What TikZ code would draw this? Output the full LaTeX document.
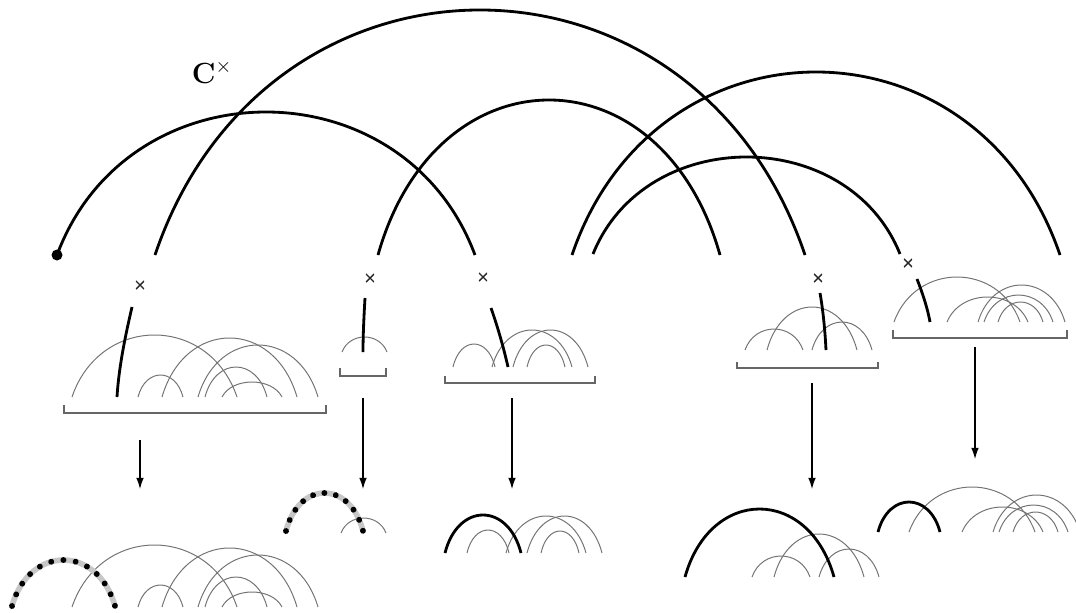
\documentclass[tikz,border=0pt]{standalone}
\usetikzlibrary{arrows.meta,decorations.markings}
\newcommand{\humpk}{0.17}
\newcommand{\hump}[5]{%
  \pgfmathsetmacro{\humpw}{#3-#2}%
  \pgfmathsetmacro{\humpc}{#4-(#4-#5)/0.75}%
  \draw[#1] (#2,#4) .. controls ({#2+\humpk*\humpw},\humpc) and ({#3-\humpk*\humpw},\humpc) .. (#3,#4);%
}
\newcommand{\grpone}{%
  \hump{thinarc}{72}{237}{397}{335}
  \hump{thinarc}{138}{183}{397}{375}
  \hump{thinarc}{162}{297}{397}{338}
  \hump{thinarc}{198}{318}{397}{345}
  \hump{thinarc}{205}{267}{397}{367}
  \hump{thinarc}{222}{282}{397}{382}
}
\newcommand{\grptwo}{%
  \hump{thinarc}{342}{387}{352}{337}
}
\newcommand{\grpthree}{%
  \hump{thinarc}{453}{495}{367}{344}
  \hump{thinarc}{492}{572}{367}{330}
  \hump{thinarc}{513}{588}{367}{330}
  \hump{thinarc}{527}{565}{367}{345}
}
\newcommand{\grpfour}{%
  \hump{thinarc}{745}{803}{350}{329}
  \hump{thinarc}{767}{857}{350}{307}
  \hump{thinarc}{812}{872}{350}{322}
}
\newcommand{\grpfive}{%
  \hump{thinarc}{894}{1020}{322}{277}
  \hump{thinarc}{947}{1028}{322}{297}
  \hump{thinarc}{978}{1065}{322}{285}
  \hump{thinarc}{984}{1053}{322}{295}
  \hump{thinarc}{998}{1043}{322}{302}
}
\begin{document}
\begin{tikzpicture}[x=0.025cm,y=-0.025cm,
  bigline/.style={line width=2pt,black},
  thinarc/.style={line width=0.7pt,black!55},
  brk/.style={line width=1.1pt,black!60},
  arr/.style={line width=0.8pt,-{Latex[length=8pt,width=5.5pt]}},
  xmark/.style={inner sep=0pt,minimum size=5.8pt,
    path picture={\draw[line width=1pt,black!85]
      (path picture bounding box.south west) -- (path picture bounding box.north east)
      (path picture bounding box.north west) -- (path picture bounding box.south east);}},
  dotarcA/.style={line width=4pt,black!22,postaction={decorate},
    decoration={markings,mark=between positions 0 and 1 step 0.0832 with {\fill[black] (0,0) circle (2.1pt);}}},
  dotarcB/.style={line width=4pt,black!22,postaction={decorate},
    decoration={markings,mark=between positions 0 and 1 step 0.0998 with {\fill[black] (0,0) circle (2.1pt);}}}]
\useasboundingbox (0,0) rectangle (1076,612);

% big arcs
\hump{bigline}{57}{475}{255}{112}
\hump{bigline}{155}{805}{255}{10}
\hump{bigline}{378}{720}{255}{100}
\hump{bigline}{572}{1060}{255}{72}
\hump{bigline}{593}{900}{254}{157}
\fill (57,255) circle (5.5);

\node (lab) at (212,72) {\fontsize{20}{24}\selectfont$\mathbf{C}^{\times}$};

% cross markers
\node[xmark] (x1) at (140,285) {};
\node[xmark] (x2) at (370,278) {};
\node[xmark] (x3) at (483,277) {};
\node[xmark] (x4) at (818,278) {};
\node[xmark] (x5) at (908,263) {};

% top groups
\grpone \grptwo \grpthree \grpfour \grpfive

% thick pieces
\draw[bigline] (132,307) .. controls (126,333) and (119,365) .. (117,397);
\draw[bigline] (365,298) .. controls (364,315) and (363,335) .. (363,352);
\draw[bigline] (491,308) .. controls (497,325) and (503,345) .. (508,367);
\draw[bigline] (820,293) .. controls (823,310) and (825,330) .. (826,350);
\draw[bigline] (917,279) .. controls (922,292) and (927,306) .. (930,322);

% brackets
\draw[brk] (64,405) -- (64,413) -- (326,413) -- (326,405);
\draw[brk] (340,368) -- (340,376) -- (386,376) -- (386,368);
\draw[brk] (445,376) -- (445,383) -- (595,383) -- (595,376);
\draw[brk] (737,362) -- (737,368) -- (878,368) -- (878,362);
\draw[brk] (893,330) -- (893,338) -- (1067,338) -- (1067,330);

% arrows
\coordinate (a1s) at (140,440); \coordinate (a1e) at (140,489);
\coordinate (a2s) at (363,398); \coordinate (a2e) at (363,489);
\coordinate (a3s) at (512,398); \coordinate (a3e) at (512,489);
\coordinate (a4s) at (812,383); \coordinate (a4e) at (812,489);
\coordinate (a5s) at (975,347); \coordinate (a5e) at (975,459);
\draw[arr] (a1s) -- (a1e);
\draw[arr] (a2s) -- (a2e);
\draw[arr] (a3s) -- (a3e);
\draw[arr] (a4s) -- (a4e);
\draw[arr] (a5s) -- (a5e);

% bottom groups
\begin{scope}[shift={(0,210)}] \grpone \end{scope}
\begin{scope}[shift={(-1,181)}] \grptwo \end{scope}
\begin{scope}[shift={(14,186)}] \grpthree \end{scope}
\begin{scope}[shift={(7,227)}] \grpfour \end{scope}
\begin{scope}[shift={(15,210)}] \grpfive \end{scope}

\hump{dotarcA}{12}{115}{606}{560}
\hump{dotarcB}{286}{363}{531}{493}
\hump{bigline}{445}{521}{553}{515}
\hump{bigline}{685}{834}{577}{509}
\hump{bigline}{878}{940}{532}{502}
\end{tikzpicture}
\end{document}
